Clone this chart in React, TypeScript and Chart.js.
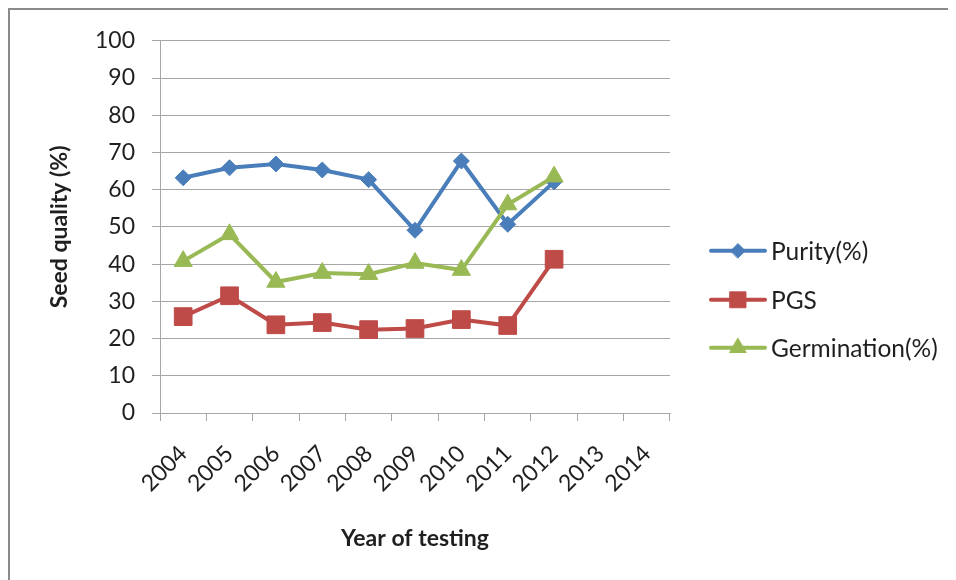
import React, { useEffect, useRef } from "react";
import { Chart, registerables } from "chart.js";

Chart.register(...registerables);

const years = ["2004", "2005", "2006", "2007", "2008", "2009", "2010", "2011", "2012", "2013", "2014"];
const purity = [63.2, 65.9, 66.9, 65.3, 62.7, 49.1, 67.7, 50.7, 62.1, null, null];
const pgs = [25.9, 31.5, 23.7, 24.3, 22.4, 22.7, 25.1, 23.5, 41.3, null, null];
const germination = [40.8, 48.0, 35.2, 37.6, 37.3, 40.3, 38.4, 56.0, 63.5, null, null];
const seriesNames = ["Purity(%)", "PGS", "Germination(%)"];
const seriesColors = ["#4a7ebb", "#be4b48", "#98b954"];
const seriesMarkers = ["rectRot", "rect", "triangle"];
const yMin = 0;
const yMax = 100;
const yStep = 10;

const FONT = "Lato, 'Open Sans', sans-serif";
const GRID = "#a6a6a6";
const TEXT = "#1f1f1f";

function drawMarker(ctx: CanvasRenderingContext2D, style: string, x: number, y: number, r: number, color: string) {
  ctx.save();
  ctx.fillStyle = color;
  ctx.strokeStyle = color;
  ctx.lineWidth = 1;
  ctx.beginPath();
  if (style === "rectRot") {
    ctx.moveTo(x - r, y);
    ctx.lineTo(x, y - r);
    ctx.lineTo(x + r, y);
    ctx.lineTo(x, y + r);
  } else if (style === "rect") {
    const s = Math.SQRT1_2 * r;
    ctx.rect(x - s, y - s, 2 * s, 2 * s);
  } else {
    const a = Math.PI / 6;
    ctx.moveTo(x, y - r);
    ctx.lineTo(x + Math.cos(a) * r, y + Math.sin(a) * r);
    ctx.lineTo(x - Math.cos(a) * r, y + Math.sin(a) * r);
  }
  ctx.closePath();
  ctx.fill();
  ctx.stroke();
  ctx.restore();
}

const markerRadius: Record<string, number> = { rectRot: 8, rect: 12.5, triangle: 10.5 };

const legendPlugin = {
  id: "lineMarkerLegend",
  afterDraw(chart: any) {
    const ctx: CanvasRenderingContext2D = chart.ctx;
    const { right, top } = chart.chartArea;
    const x0 = right + 41;
    const x1 = right + 95;
    const rowYs = [210, 259, 307];
    ctx.save();
    seriesNames.forEach((name, i) => {
      const y = top + rowYs[i];
      ctx.strokeStyle = seriesColors[i];
      ctx.lineWidth = 4;
      ctx.lineCap = "round";
      ctx.beginPath();
      ctx.moveTo(x0, y);
      ctx.lineTo(x1, y);
      ctx.stroke();
      drawMarker(ctx, seriesMarkers[i], (x0 + x1) / 2, y, markerRadius[seriesMarkers[i]] * 0.9, seriesColors[i]);
      ctx.fillStyle = TEXT;
      ctx.font = `24.5px ${FONT}`;
      ctx.textAlign = "left";
      ctx.textBaseline = "middle";
      ctx.fillText(name, x1 + 6, y + 1);
    });
    ctx.restore();
  },
};

export default function App() {
  const ref = useRef<HTMLCanvasElement | null>(null);

  useEffect(() => {
    document.documentElement.style.overflow = "hidden";
    document.body.style.overflow = "hidden";
    const canvas = ref.current;
    if (!canvas) return;
    const dataSets = [purity, pgs, germination];
    const chart = new Chart(canvas, {
      type: "line",
      data: {
        labels: years,
        datasets: dataSets.map((d, i) => ({
          label: seriesNames[i],
          data: d,
          borderColor: seriesColors[i],
          backgroundColor: seriesColors[i],
          pointBackgroundColor: seriesColors[i],
          pointBorderColor: seriesColors[i],
          borderWidth: 4,
          pointStyle: seriesMarkers[i] as any,
          pointRadius: markerRadius[seriesMarkers[i]],
          pointBorderWidth: 1,
          tension: 0,
          fill: false,
          order: 2 - i,
        })),
      },
      options: {
        responsive: false,
        animation: false,
        layout: { padding: { top: 28, right: 286, left: 0, bottom: 0 } },
        plugins: {
          legend: { display: false },
          tooltip: { enabled: false },
        },
        scales: {
          x: {
            offset: true,
            grid: {
              offset: true,
              drawOnChartArea: false,
              drawTicks: true,
              tickLength: 8,
              color: GRID,
            },
            border: { color: GRID },
            ticks: {
              autoSkip: false,
              minRotation: 45,
              maxRotation: 45,
              padding: 19,
              color: TEXT,
              font: { family: FONT, size: 23 },
            },
            title: {
              display: true,
              text: "Year of testing",
              color: TEXT,
              font: { family: FONT, size: 23, weight: "bold" },
              padding: { top: 0, bottom: 28 },
            },
            afterFit: (s: any) => {
              s.height = 167;
            },
          },
          y: {
            min: yMin,
            max: yMax,
            grid: { color: GRID, tickLength: 8 },
            border: { color: GRID },
            ticks: {
              stepSize: yStep,
              padding: 17,
              color: TEXT,
              font: { family: FONT, size: 23 },
            },
            title: {
              display: true,
              text: "Seed quality (%)",
              color: TEXT,
              font: { family: FONT, size: 23, weight: "bold" },
              padding: { top: 36, bottom: 0 },
            },
            afterFit: (s: any) => {
              s.width = 150;
            },
          },
        },
      },
      plugins: [legendPlugin],
    });
    return () => chart.destroy();
  }, []);

  return (
    <div
      style={{
        width: 948,
        height: 572,
        borderTop: "2px solid #8a8a8a",
        borderLeft: "2px solid #8a8a8a",
        boxSizing: "border-box",
        background: "#fff",
      }}
    >
      <canvas ref={ref} width={946} height={570} style={{ display: "block" }} />
    </div>
  );
}
